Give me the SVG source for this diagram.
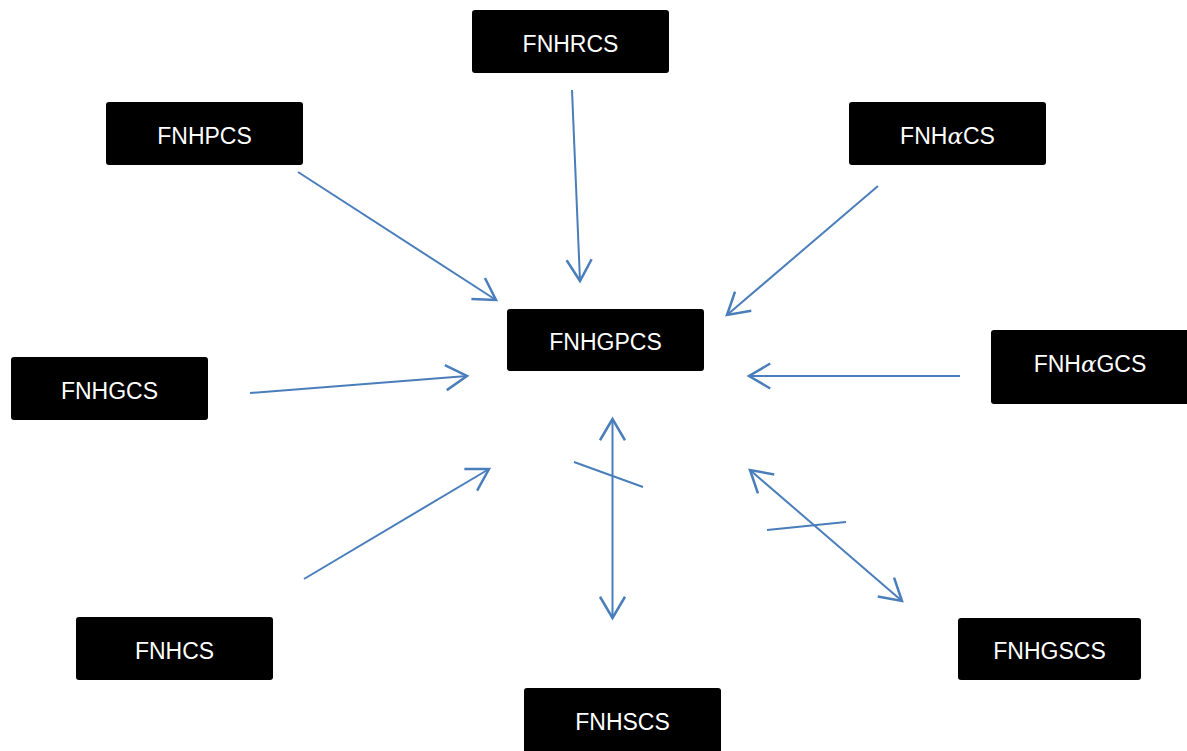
<svg xmlns="http://www.w3.org/2000/svg" width="1187" height="751" viewBox="0 0 1187 751">
<style>
.box{fill:#000;}
.lbl{fill:#fff;font-family:"Liberation Sans","Open Sans",sans-serif;font-size:23px;text-anchor:middle;dominant-baseline:central;}
.gr{font-family:"DejaVu Serif",serif;font-style:italic;}
.c{stroke:#4a7ebb;stroke-width:2;fill:none;}
</style>
<defs>
<marker id="ah" markerUnits="userSpaceOnUse" markerWidth="30" markerHeight="30" viewBox="-20 -12 24 24" refX="0" refY="0" orient="auto-start-reverse">
<path d="M-17,-10 L0,0 L-17,10" fill="none" stroke="#4a7ebb" stroke-width="2"/>
</marker>
</defs>
<rect width="1187" height="751" fill="#fff"/>
<g id="connectors">
<line class="c" x1="298" y1="172" x2="496" y2="300" marker-end="url(#ah)"/>
<line class="c" x1="572" y1="90" x2="580" y2="281" marker-end="url(#ah)"/>
<line class="c" x1="878" y1="186" x2="727" y2="315" marker-end="url(#ah)"/>
<line class="c" x1="960" y1="376" x2="749" y2="376" marker-end="url(#ah)"/>
<line class="c" x1="250" y1="393" x2="467" y2="376" marker-end="url(#ah)"/>
<line class="c" x1="304" y1="579" x2="489" y2="469" marker-end="url(#ah)"/>
<line class="c" x1="612.5" y1="419" x2="612.5" y2="618" marker-start="url(#ah)" marker-end="url(#ah)"/>
<line class="c" x1="574" y1="462" x2="643" y2="487"/>
<line class="c" x1="750" y1="470" x2="902" y2="601" marker-start="url(#ah)" marker-end="url(#ah)"/>
<line class="c" x1="767" y1="530" x2="846" y2="522"/>
</g>
<g id="FNHRCS"><rect class="box" x="472" y="10" width="197" height="63" rx="3"/><text class="lbl" x="570.5" y="44">FNHRCS</text></g>
<g id="FNHPCS"><rect class="box" x="106" y="102" width="197" height="63" rx="3"/><text class="lbl" x="204.5" y="136">FNHPCS</text></g>
<g id="FNHaCS"><rect class="box" x="849" y="102" width="197" height="63" rx="3"/><text class="lbl" x="947.5" y="136">FNH<tspan class="gr">α</tspan>CS</text></g>
<g id="FNHGPCS"><rect class="box" x="507" y="309" width="197" height="62" rx="3"/><text class="lbl" x="605.5" y="342">FNHGPCS</text></g>
<g id="FNHaGCS"><rect class="box" x="991" y="330" width="200" height="74" rx="3"/><text class="lbl" x="1090" y="364">FNH<tspan class="gr">α</tspan>GCS</text></g>
<g id="FNHGCS"><rect class="box" x="11" y="357" width="197" height="63" rx="3"/><text class="lbl" x="109.5" y="391">FNHGCS</text></g>
<g id="FNHCS"><rect class="box" x="76" y="617" width="197" height="63" rx="3"/><text class="lbl" x="174.5" y="651">FNHCS</text></g>
<g id="FNHSCS"><rect class="box" x="524" y="688" width="197" height="66" rx="3"/><text class="lbl" x="622.5" y="722">FNHSCS</text></g>
<g id="FNHGSCS"><rect class="box" x="958" y="618" width="183" height="62" rx="3"/><text class="lbl" x="1049.5" y="651">FNHGSCS</text></g>
</svg>
